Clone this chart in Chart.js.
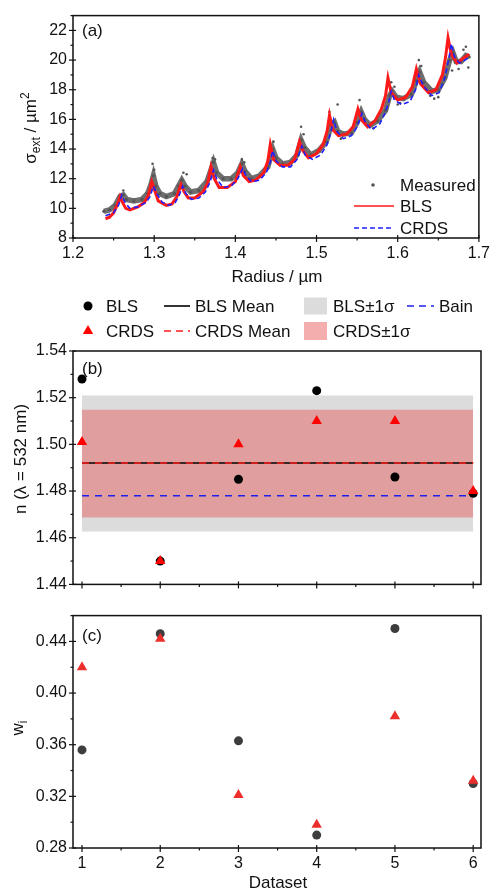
<!DOCTYPE html>
<html><head><meta charset="utf-8">
<script src="https://cdn.jsdelivr.net/npm/chart.js@4/dist/chart.umd.min.js"></script>
<style>
html,body{margin:0;padding:0;background:#fff;}
body{width:496px;height:890px;position:relative;overflow:hidden;}
canvas{position:absolute;left:0;}
</style></head><body>
<canvas id="ca" width="496" height="290" style="top:0px;width:496px;height:290px"></canvas>
<canvas id="cb" width="496" height="315" style="top:285px;width:496px;height:315px"></canvas>
<canvas id="cc" width="496" height="290" style="top:600px;width:496px;height:290px"></canvas>
<script>
// ---------- Panel (a) data: extinction cross section vs radius ----------
const measuredR = [1.238,1.245,1.252,1.258,1.262,1.266,1.275,1.285,1.292,1.296,1.299,1.302,1.307,1.315,1.325,1.330,1.334,1.338,1.345,1.355,1.365,1.370,1.373,1.377,1.385,1.395,1.403,1.408,1.412,1.420,1.430,1.440,1.446,1.450,1.458,1.468,1.476,1.481,1.485,1.493,1.503,1.512,1.518,1.522,1.526,1.533,1.543,1.550,1.555,1.559,1.566,1.575,1.585,1.590,1.593,1.598,1.607,1.617,1.623,1.627,1.632,1.642,1.650,1.658,1.664,1.668,1.672,1.678,1.684,1.688];
const measuredV = [9.8,9.9,10.2,10.8,10.9,10.6,10.5,10.6,11.0,11.6,12.2,11.5,11.0,10.8,11.0,11.5,11.9,11.5,11.1,11.2,11.8,12.6,13.1,12.4,12.0,12.0,12.4,13.0,12.5,12.0,12.2,12.8,14.0,13.4,13.0,13.1,13.6,14.6,14.1,13.6,13.9,14.5,15.6,15.8,15.2,15.0,15.1,15.8,16.5,16.0,15.6,15.9,16.6,17.6,17.9,17.5,17.4,17.7,18.6,19.2,18.5,17.9,18.0,18.8,20.0,20.5,19.9,19.9,20.3,20.2];
const measuredOutR = [1.262,1.298,1.300,1.336,1.340,1.372,1.375,1.408,1.411,1.447,1.481,1.484,1.516,1.526,1.553,1.592,1.596,1.626,1.629,1.645,1.667,1.684,1.687,1.650,1.600,1.655,1.675,1.681,1.640,1.603,1.570,1.530];
const measuredOutV = [11.2,13.0,12.6,12.4,12.3,13.4,13.3,13.3,13.1,14.5,15.5,15.0,16.5,17.0,17.3,18.5,18.2,20.0,19.6,17.4,19.3,20.9,19.5,17.5,17.0,18.4,19.4,20.7,17.6,17.1,15.4,14.7];
const blsR = [1.240,1.245,1.250,1.255,1.258,1.261,1.265,1.270,1.280,1.288,1.293,1.297,1.300,1.305,1.315,1.322,1.328,1.333,1.337,1.342,1.350,1.360,1.366,1.370,1.374,1.380,1.390,1.400,1.406,1.410,1.417,1.425,1.435,1.440,1.443,1.447,1.455,1.465,1.473,1.479,1.483,1.490,1.500,1.508,1.513,1.516,1.520,1.527,1.537,1.545,1.551,1.555,1.563,1.572,1.580,1.585,1.588,1.592,1.600,1.610,1.618,1.623,1.628,1.638,1.647,1.655,1.659,1.662,1.666,1.673,1.680,1.688];
const blsV = [9.3,9.4,9.7,10.3,10.8,10.4,10.0,9.9,10.1,10.4,10.9,11.8,11.3,10.5,10.2,10.3,10.8,11.6,11.1,10.7,10.7,11.1,11.7,12.8,12.0,11.4,11.4,11.8,12.8,12.2,11.8,11.9,12.4,13.2,14.3,13.3,12.9,12.9,13.3,14.5,13.9,13.4,13.7,14.3,15.2,16.3,15.3,14.9,15.0,15.5,16.7,16.0,15.5,15.9,16.7,17.6,18.8,17.8,17.3,17.5,18.2,19.4,18.4,17.8,18.0,19.0,20.2,21.5,20.4,19.8,20.1,20.4];
const crdsR = [1.240,1.250,1.256,1.260,1.264,1.270,1.280,1.290,1.295,1.299,1.303,1.310,1.318,1.326,1.331,1.335,1.339,1.346,1.355,1.363,1.369,1.373,1.377,1.385,1.395,1.403,1.409,1.413,1.420,1.430,1.438,1.443,1.446,1.450,1.458,1.468,1.476,1.482,1.486,1.495,1.505,1.513,1.518,1.521,1.525,1.533,1.543,1.550,1.556,1.560,1.568,1.578,1.585,1.589,1.592,1.596,1.605,1.615,1.622,1.626,1.631,1.642,1.651,1.658,1.663,1.666,1.670,1.676,1.683,1.688];
const crdsV = [9.5,9.7,10.2,10.9,10.4,10.0,10.1,10.4,10.8,11.5,11.0,10.4,10.2,10.4,10.9,11.5,11.0,10.6,10.7,11.1,11.8,12.6,12.0,11.4,11.5,12.0,12.7,12.2,11.8,11.9,12.4,13.1,13.9,13.2,12.8,12.8,13.3,14.2,13.6,13.3,13.6,14.3,15.2,16.0,15.2,14.7,14.9,15.5,16.4,15.8,15.3,15.7,16.5,17.2,17.9,17.3,17.0,17.2,18.0,19.0,18.3,17.6,17.8,18.8,20.1,21.1,20.2,19.8,20.0,20.2];

// ---------- Panel (b) data: refractive index per dataset ----------
const datasetIdx = [1,2,3,4,5,6];
const blsN  = [1.528,1.450,1.485,1.523,1.486,1.479];
const crdsN = [1.501,1.450,1.500,1.510,1.510,1.480];
const blsMeanN = 1.492;
const crdsMeanN = 1.492;
const bainN = 1.478;
const blsBandN  = [1.4627,1.5209];   // mean -1σ, +1σ
const crdsBandN = [1.4687,1.5148];

// ---------- Panel (c) data: weights ----------
const blsW  = [0.356,0.446,0.363,0.290,0.450,0.330];
const crdsW = [0.420,0.442,0.321,0.298,0.382,0.332];

const FONT = "'Liberation Sans', Arial, Helvetica, sans-serif";
Chart.defaults.font.family = FONT;
Chart.defaults.font.size = 16;
Chart.defaults.color = '#111';
Chart.defaults.animation = false;

const pts = (xs, ys) => xs.map((x,i)=>({x, y: ys[i]}));
const flat = (xs, v) => [{x: xs[0], y: v}, {x: xs[xs.length-1], y: v}];

function font(sz){ return sz + 'px ' + FONT; }

function drawRich(ctx, parts, x, y, rot, size, align){
  ctx.save();
  ctx.translate(x, y); ctx.rotate(rot || 0);
  ctx.textAlign = 'left'; ctx.textBaseline = 'alphabetic'; ctx.fillStyle = '#111';
  const ws = parts.map(p => { ctx.font = font((p.sub||p.sup) ? Math.round(size*0.68) : size); return ctx.measureText(p.t).width; });
  const total = ws.reduce((a,b)=>a+b,0);
  let cx = align === 'left' ? 0 : align === 'right' ? -total : -total/2;
  parts.forEach((p,i) => {
    ctx.font = font((p.sub||p.sup) ? Math.round(size*0.68) : size);
    const dy = p.sub ? size*0.22 : p.sup ? -size*0.42 : 0;
    ctx.fillText(p.t, cx, dy + size*0.36);
    cx += ws[i];
  });
  ctx.restore();
}

// frame + ticks + texts + legend plugin
const decor = {
  id: 'decor',
  afterDraw(chart, args, opts){
    const ctx = chart.ctx, a = chart.chartArea;
    ctx.save();
    ctx.strokeStyle = '#111'; ctx.lineWidth = 1.5;
    ctx.strokeRect(a.left, a.top, a.right - a.left, a.bottom - a.top);
    ctx.lineWidth = 1.2;
    const xs = chart.scales.x, ys = chart.scales.y;
    const majorX = xs.ticks.map(t=>t.value), majorY = ys.ticks.map(t=>t.value);
    majorX.forEach(v => { const p = xs.getPixelForValue(v); ctx.beginPath(); ctx.moveTo(p, a.bottom - 3); ctx.lineTo(p, a.bottom + 4); ctx.stroke(); });
    majorY.forEach(v => { const p = ys.getPixelForValue(v); ctx.beginPath(); ctx.moveTo(a.left + 3, p); ctx.lineTo(a.left - 4, p); ctx.stroke(); });
    const minor = (sc, step, majors, fn) => {
      for (let v = Math.ceil(sc.min/step - 1e-6)*step; v <= sc.max + 1e-9; v += step){
        if (majors.some(m => Math.abs(m - v) < step*0.01)) continue;
        fn(sc.getPixelForValue(v));
      }
    };
    minor(xs, opts.minorX, majorX, p => { ctx.beginPath(); ctx.moveTo(p, a.bottom); ctx.lineTo(p, a.bottom + 2.5); ctx.stroke(); });
    minor(ys, opts.minorY, majorY, p => { ctx.beginPath(); ctx.moveTo(a.left, p); ctx.lineTo(a.left - 2.5, p); ctx.stroke(); });
    (opts.texts || []).forEach(t => drawRich(ctx, t.parts, t.x, t.y, t.rot, t.size, t.align));
    (opts.legend || []).forEach(it => {
      ctx.save();
      if (it.sym === 'dot'){ ctx.fillStyle = it.color; ctx.beginPath(); ctx.arc(it.sx, it.y, it.r, 0, Math.PI*2); ctx.fill(); }
      if (it.sym === 'tri'){ ctx.fillStyle = it.color; const r = it.r; ctx.beginPath();
        ctx.moveTo(it.sx, it.y - r); ctx.lineTo(it.sx + r*0.866, it.y + r*0.5); ctx.lineTo(it.sx - r*0.866, it.y + r*0.5); ctx.closePath(); ctx.fill(); }
      if (it.sym === 'line'){ ctx.strokeStyle = it.color; ctx.lineWidth = it.w || 1.5; ctx.setLineDash(it.dash || []);
        ctx.beginPath(); ctx.moveTo(it.sx, it.y); ctx.lineTo(it.ex, it.y); ctx.stroke(); }
      if (it.sym === 'rect'){ ctx.fillStyle = it.color; ctx.fillRect(it.sx, it.y - it.h/2, it.ex - it.sx, it.h); }
      ctx.restore();
      drawRich(ctx, [{t: it.label}], it.tx, it.y, 0, it.size || 17, 'left');
    });
    ctx.restore();
  }
};

function fixedScales(yW, xH, showXLabels){
  return {
    x: {
      type: 'linear',
      afterFit: s => { s.height = xH; },
      grid: { display: false, drawTicks: false },
      border: { display: false },
      ticks: { display: showXLabels, autoSkip: false, maxRotation: 0, padding: 6, color: '#111' }
    },
    y: {
      type: 'linear',
      afterFit: s => { s.width = yW; },
      grid: { display: false, drawTicks: false },
      border: { display: false },
      ticks: { autoSkip: false, padding: 6, color: '#111' }
    }
  };
}

// ---------------- Chart A ----------------
const scA = fixedScales(73, 52, true);
scA.x.min = 1.2; scA.x.max = 1.7;
Object.assign(scA.x.ticks, { stepSize: 0.1, includeBounds: false, callback: v => v.toFixed(1) });
scA.y.min = 8; scA.y.max = 23;
Object.assign(scA.y.ticks, { stepSize: 2, includeBounds: false, callback: v => String(Math.round(v)) });

new Chart(document.getElementById('ca'), {
  type: 'scatter',
  data: { datasets: [
    { label: 'CRDS', data: pts(crdsR, crdsV), showLine: true, borderColor: '#1f1fff', borderWidth: 1.6, borderDash: [5,3], pointRadius: 0, tension: 0, order: 1 },
    { label: 'BLS', data: pts(blsR, blsV), showLine: true, borderColor: '#ff1a1a', borderWidth: 3, pointRadius: 0, tension: 0, order: 2 },
    { label: 'Measured', data: pts(measuredR, measuredV), showLine: true, borderColor: 'rgba(85,85,85,0.85)', borderWidth: 5.5, pointRadius: 1.6, pointBackgroundColor: '#555', pointBorderWidth: 0, tension: 0, order: 3 },
    { label: 'Measured spread', data: pts(measuredOutR, measuredOutV), pointRadius: 1.3, pointBackgroundColor: '#555', pointBorderWidth: 0, order: 3 }
  ]},
  options: {
    responsive: false, devicePixelRatio: 1,
    layout: { padding: { top: 15, right: 15, left: 0, bottom: 0 } },
    scales: scA,
    plugins: { legend: { display: false }, tooltip: { enabled: false },
      decor: { minorX: 0.05, minorY: 1,
        texts: [
          { parts: [{t:'(a)'}], x: 82, y: 30, size: 17, align: 'left' },
          { parts: [{t:'Radius / µm'}], x: 277, y: 276, size: 17 },
          { parts: [{t:'σ'},{t:'ext',sub:true},{t:' / µm'},{t:'2',sup:true}], x: 30, y: 128, rot: -Math.PI/2, size: 17 }
        ],
        legend: [
          { sym: 'dot', color: '#555', sx: 373, r: 1.8, y: 185, tx: 400, label: 'Measured' },
          { sym: 'line', color: '#ff1a1a', sx: 354, ex: 394, y: 206, w: 1.5, tx: 400, label: 'BLS' },
          { sym: 'line', color: '#1f1fff', sx: 354, ex: 394, y: 228, w: 1.5, dash: [5,3], tx: 400, label: 'CRDS' }
        ] } }
  },
  plugins: [decor]
});

// ---------------- Chart B ----------------
const scB = fixedScales(73, 7, false);
scB.x.min = 0.885; scB.x.max = 6.1;
Object.assign(scB.x.ticks, { stepSize: 1, includeBounds: false });
scB.y.min = 1.44; scB.y.max = 1.54;
Object.assign(scB.y.ticks, { stepSize: 0.02, includeBounds: false, callback: v => v.toFixed(2) });

new Chart(document.getElementById('cb'), {
  type: 'scatter',
  data: { datasets: [
    { label: 'CRDS', data: pts(datasetIdx, crdsN), pointStyle: 'triangle', pointRadius: 6, pointBackgroundColor: '#ff0000', pointBorderWidth: 0, order: 1 },
    { label: 'BLS', data: pts(datasetIdx, blsN), pointStyle: 'circle', pointRadius: 4.5, pointBackgroundColor: '#000', pointBorderWidth: 0, order: 2 },
    { label: 'CRDS Mean', data: flat(datasetIdx, crdsMeanN), showLine: true, borderColor: '#ff1a1a', borderWidth: 1.6, borderDash: [7,6], pointRadius: 0, order: 3 },
    { label: 'BLS Mean', data: flat(datasetIdx, blsMeanN), showLine: true, borderColor: '#000', borderWidth: 1.6, pointRadius: 0, order: 4 },
    { label: 'Bain', data: flat(datasetIdx, bainN), showLine: true, borderColor: '#2020ee', borderWidth: 1.6, borderDash: [7,6], pointRadius: 0, order: 5 },
    { label: 'CRDS±1σ', data: flat(datasetIdx, crdsBandN[1]), showLine: true, borderWidth: 0, pointRadius: 0, fill: '+1', backgroundColor: 'rgba(232,20,20,0.31)', order: 6 },
    { label: 'CRDS-1σ', data: flat(datasetIdx, crdsBandN[0]), showLine: true, borderWidth: 0, pointRadius: 0, fill: false, order: 7 },
    { label: 'BLS±1σ', data: flat(datasetIdx, blsBandN[1]), showLine: true, borderWidth: 0, pointRadius: 0, fill: '+1', backgroundColor: '#dcdcdc', order: 8 },
    { label: 'BLS-1σ', data: flat(datasetIdx, blsBandN[0]), showLine: true, borderWidth: 0, pointRadius: 0, fill: false, order: 9 }
  ]},
  options: {
    responsive: false, devicePixelRatio: 1,
    layout: { padding: { top: 66, right: 15, left: 0, bottom: 0 } },
    scales: scB,
    plugins: { legend: { display: false }, tooltip: { enabled: false }, filler: { drawTime: 'beforeDatasetsDraw' },
      decor: { minorX: 0.5, minorY: 0.01,
        texts: [
          { parts: [{t:'(b)'}], x: 82, y: 83, size: 17, align: 'left' },
          { parts: [{t:'n (λ = 532 nm)'}], x: 20, y: 174, rot: -Math.PI/2, size: 17 }
        ],
        legend: [
          { sym: 'dot', color: '#000', sx: 88, r: 4.5, y: 21, tx: 106, label: 'BLS' },
          { sym: 'line', color: '#000', sx: 164, ex: 190, y: 21, w: 1.6, tx: 195, label: 'BLS Mean' },
          { sym: 'rect', color: '#dcdcdc', sx: 304, ex: 327, h: 17, y: 21, tx: 333, label: 'BLS±1σ' },
          { sym: 'line', color: '#2020ee', sx: 407, ex: 434, y: 21, w: 1.6, dash: [7,5], tx: 439, label: 'Bain' },
          { sym: 'tri', color: '#ff0000', sx: 88, r: 6, y: 46, tx: 106, label: 'CRDS' },
          { sym: 'line', color: '#ff1a1a', sx: 164, ex: 190, y: 46, w: 1.6, dash: [7,5], tx: 195, label: 'CRDS Mean' },
          { sym: 'rect', color: '#f4aeae', sx: 304, ex: 327, h: 18, y: 46, tx: 333, label: 'CRDS±1σ' }
        ] } }
  },
  plugins: [decor]
});

// ---------------- Chart C ----------------
const scC = fixedScales(73, 42, true);
scC.x.min = 0.885; scC.x.max = 6.1;
Object.assign(scC.x.ticks, { stepSize: 1, includeBounds: false, callback: v => String(v) });
scC.y.min = 0.28; scC.y.max = 0.46;
Object.assign(scC.y.ticks, { stepSize: 0.04, includeBounds: false, callback: v => v.toFixed(2) });

new Chart(document.getElementById('cc'), {
  type: 'scatter',
  data: { datasets: [
    { label: 'CRDS', data: pts(datasetIdx, crdsW), pointStyle: 'triangle', pointRadius: 6, pointBackgroundColor: '#ec2f2c', pointBorderWidth: 0, order: 1 },
    { label: 'BLS', data: pts(datasetIdx, blsW), pointStyle: 'circle', pointRadius: 4.5, pointBackgroundColor: '#3d3d3d', pointBorderWidth: 0, order: 2 }
  ]},
  options: {
    responsive: false, devicePixelRatio: 1,
    layout: { padding: { top: 9, right: 15, left: 0, bottom: 0 } },
    scales: scC,
    plugins: { legend: { display: false }, tooltip: { enabled: false },
      decor: { minorX: 0.5, minorY: 0.02,
        texts: [
          { parts: [{t:'(c)'}], x: 82, y: 35, size: 17, align: 'left' },
          { parts: [{t:'Dataset'}], x: 278, y: 282, size: 17 },
          { parts: [{t:'w'},{t:'i',sub:true}], x: 17, y: 128, rot: -Math.PI/2, size: 17 }
        ] } }
  },
  plugins: [decor]
});
</script>
</body></html>
